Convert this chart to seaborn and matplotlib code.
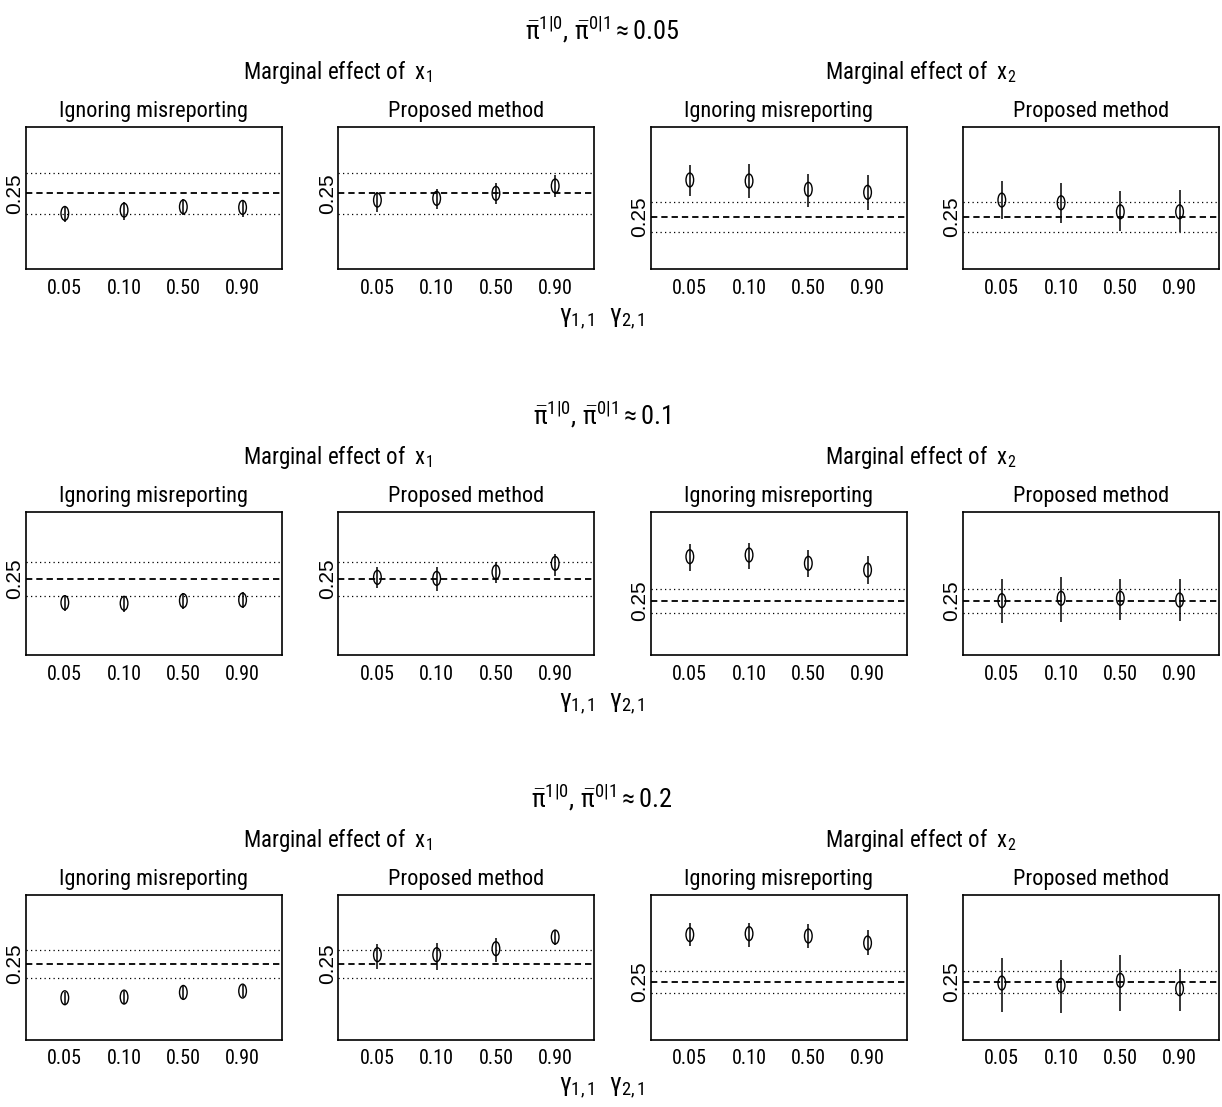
import matplotlib
matplotlib.use("Agg")
import matplotlib.pyplot as plt
import seaborn as sns
import numpy as np
from matplotlib.path import Path
from matplotlib import font_manager

# ---- data ----
gammas = ["0.05", "0.10", "0.50", "0.90"]
rates = ["0.05", "0.1", "0.2"]
true_val = 0.25
band = 0.05

# marginal effect of x1, ignoring misreporting (rows: rate 0.05, 0.1, 0.2)
x1_naive_est = [[0.2005, 0.2087, 0.2168, 0.2153],
                [0.1816, 0.1797, 0.1874, 0.1893],
                [0.1286, 0.1310, 0.1476, 0.1524]]
x1_naive_lo = [[0.1797, 0.1840, 0.1963, 0.1921],
               [0.1585, 0.1556, 0.1623, 0.1671],
               [0.1071, 0.1071, 0.1250, 0.1310]]
x1_naive_hi = [[0.2168, 0.2277, 0.2359, 0.2334],
               [0.2038, 0.2009, 0.2086, 0.2115],
               [0.1488, 0.1524, 0.1702, 0.1750]]

# marginal effect of x1, proposed method
x1_prop_est = [[0.2334, 0.2376, 0.2500, 0.2681],
               [0.2548, 0.2519, 0.2702, 0.2953],
               [0.2821, 0.2821, 0.3036, 0.3452]]
x1_prop_lo = [[0.2045, 0.2104, 0.2235, 0.2401],
              [0.2230, 0.2163, 0.2375, 0.2596],
              [0.2298, 0.2286, 0.2560, 0.3179]]
x1_prop_hi = [[0.2540, 0.2599, 0.2762, 0.2953],
              [0.2837, 0.2837, 0.3001, 0.3223],
              [0.3214, 0.3250, 0.3429, 0.3690]]

# marginal effect of x2, ignoring misreporting
x2_naive_est = [[0.3723, 0.3690, 0.3413, 0.3313],
                [0.4322, 0.4390, 0.4048, 0.3774],
                [0.4685, 0.4731, 0.4623, 0.4300]]
x2_naive_lo = [[0.3190, 0.3133, 0.2833, 0.2723],
               [0.3747, 0.3801, 0.3473, 0.3199],
               [0.4146, 0.4115, 0.4069, 0.3731]]
x2_naive_hi = [[0.4223, 0.4257, 0.3923, 0.3890],
               [0.4829, 0.4897, 0.4596, 0.4349],
               [0.5223, 0.5238, 0.5192, 0.4885]]

# marginal effect of x2, proposed method
x2_prop_est = [[0.3057, 0.2967, 0.2667, 0.2667],
               [0.2514, 0.2610, 0.2610, 0.2541],
               [0.2454, 0.2346, 0.2577, 0.2192]]
x2_prop_lo = [[0.2413, 0.2280, 0.2033, 0.2000],
              [0.1582, 0.1651, 0.1719, 0.1692],
              [0.1115, 0.1085, 0.1162, 0.1162]]
x2_prop_hi = [[0.3690, 0.3633, 0.3357, 0.3390],
              [0.3390, 0.3500, 0.3390, 0.3390],
              [0.3623, 0.3500, 0.3731, 0.3115]]

x1_ylim = [(0.063, 0.414), (0.030, 0.445), (-0.021, 0.494)]
x2_ylim = [(0.076, 0.549), (0.028, 0.617), (-0.016, 0.650)]

# ---- style ----
sns.set_theme(style="white")

# the original uses a narrow Helvetica; take the narrowest family we can find
ttf = font_manager.fontManager.ttflist
names = {f.name for f in ttf}
stretch = "normal"
if "Liberation Sans Narrow" in names:
    fam = "Liberation Sans Narrow"
elif "Roboto Condensed" in names:
    fam = "Roboto Condensed"
elif any(f.name == "DejaVu Sans" and "condensed" in str(f.stretch) for f in ttf):
    fam = "DejaVu Sans"
    stretch = "condensed"
else:
    fam = "Liberation Sans"
wide = "Liberation Sans" if "Liberation Sans" in names else "DejaVu Sans"

plt.rcParams["font.family"] = [fam, "DejaVu Sans"]
plt.rcParams["font.stretch"] = stretch
plt.rcParams["mathtext.fontset"] = "custom"
plt.rcParams["mathtext.rm"] = fam
plt.rcParams["mathtext.it"] = fam + ":italic"
plt.rcParams["mathtext.bf"] = fam + ":bold"
plt.rcParams["text.color"] = "black"
plt.rcParams["xtick.color"] = "black"
plt.rcParams["ytick.color"] = "black"

W, H = 1222, 1107
fig = plt.figure(figsize=(W / 100, H / 100), dpi=100)

def fx(px):
    return px / W

def fy(py):
    return 1 - py / H

# tall ellipse marker (the original is squeezed horizontally)
uc = Path.unit_circle()
ellipse = Path(uc.vertices * np.array([0.55, 1.0]), uc.codes)

panel_x = [(25.7, 281.7), (338.3, 594.3), (650.7, 906.7), (962.7, 1218.7)]
row_top = [126.7, 511.7, 895.3]
row_bot = [269.3, 655.0, 1039.7]
xpos = np.arange(1, 5)

for r in range(3):
    top, bot = row_top[r], row_bot[r]
    panels = [
        (x1_naive_est[r], x1_naive_lo[r], x1_naive_hi[r], x1_ylim[r], "Ignoring misreporting"),
        (x1_prop_est[r], x1_prop_lo[r], x1_prop_hi[r], x1_ylim[r], "Proposed method"),
        (x2_naive_est[r], x2_naive_lo[r], x2_naive_hi[r], x2_ylim[r], "Ignoring misreporting"),
        (x2_prop_est[r], x2_prop_lo[r], x2_prop_hi[r], x2_ylim[r], "Proposed method"),
    ]
    for p, (est, lo, hi, ylim, sub) in enumerate(panels):
        x0, x1 = panel_x[p]
        ax = fig.add_axes([fx(x0), fy(bot), (x1 - x0) / W, (bot - top) / H])
        ax.axhline(true_val, color="black", lw=1.3, ls=(0, (3.5, 2.2)), zorder=1)
        ax.axhline(true_val + band, color="black", lw=0.9, ls=(0, (1, 2.6)), zorder=1)
        ax.axhline(true_val - band, color="black", lw=0.9, ls=(0, (1, 2.6)), zorder=1)
        ax.vlines(xpos, lo, hi, color="black", lw=1.1, zorder=2)
        sns.scatterplot(x=xpos, y=est, marker=ellipse, s=100, facecolor="none",
                        edgecolor="black", linewidth=1.0, legend=False, ax=ax, zorder=3)
        ax.set_xlim(0.34, 4.66)
        ax.set_ylim(*ylim)
        ax.set_xticks(xpos)
        ax.set_xticklabels(gammas)
        ax.set_yticks([true_val])
        ax.set_yticklabels(["0.25"], rotation=90, va="center")
        ax.tick_params(axis="x", length=0, pad=7, labelsize=14.5)
        ax.tick_params(axis="y", length=0, pad=1, labelsize=15, labelfontfamily=wide)
        ax.set_xlabel("")
        ax.set_ylabel("")
        for s in ax.spines.values():
            s.set_color("black")
            s.set_linewidth(1.2)
        fig.text(fx((x0 + x1) / 2), fy(top - 10), sub, ha="center", va="baseline", fontsize=16)

    fig.text(fx(602), fy(top - 97),
             r"$\bar{\mathrm{\pi}}^{1|0},\,\bar{\mathrm{\pi}}^{0|1} \approx " + rates[r] + "$",
             ha="center", va="center", fontsize=19)
    fig.text(fx(338), fy(top - 48), r"Marginal effect of  $\mathrm{x}_1$",
             ha="center", va="baseline", fontsize=16.5)
    fig.text(fx(921), fy(top - 48), r"Marginal effect of  $\mathrm{x}_2$",
             ha="center", va="baseline", fontsize=16.5)
    fig.text(fx(602), fy(top + 192), r"$\mathrm{\gamma}_{1,1}\ \ \mathrm{\gamma}_{2,1}$",
             ha="center", va="center", fontsize=19)

fig.savefig("out.png", dpi=100, facecolor="white")
plt.close(fig)
